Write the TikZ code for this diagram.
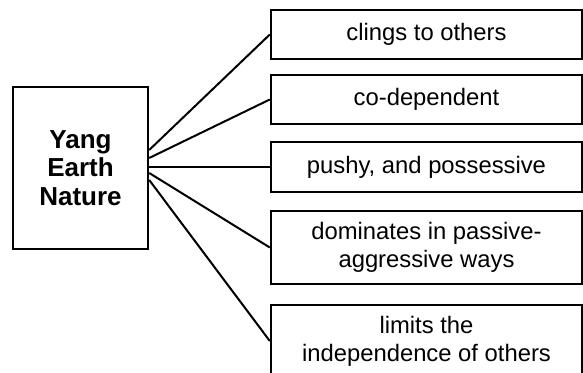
\documentclass[tikz,border=0pt]{standalone}
\usepackage{fontspec}
\setmainfont{Liberation Sans}
\usetikzlibrary{positioning}

\begin{document}
\begin{tikzpicture}[x=0.5pt, y=-0.5pt,
    trait/.style={draw, line width=1.2pt, minimum width=155.5pt, inner sep=0pt,
      align=center, font=\fontsize{11.9}{14}\selectfont},
    link/.style={line width=1pt}]
    \useasboundingbox (0,0) rectangle (583,373);

    % Nature box on the left
    \node[draw, line width=1.2pt, minimum width=67.5pt, minimum height=81pt,
      align=center, font=\fontsize{13}{14.3}\selectfont\bfseries] (yang) at (80.5,168) {Yang\\Earth\\Nature};

    % Traits
    \node[trait, minimum height=24.5pt] (cling) at (426.5,34.5) {clings to others};
    \node[trait, minimum height=24.5pt] (codep) at (426.5,99.5) {co-dependent};
    \node[trait, minimum height=25pt] (pushy) at (426.5,167) {pushy, and possessive};
    \node[trait, minimum height=36.5pt] (passive) at (426.5,247.5) {dominates in passive-\\aggressive ways};
    \node[trait, minimum height=36pt] (limits) at (426.5,341) {limits the\\independence of others};

    % Links from the nature box
    \foreach \t/\s in {cling/9pt, codep/5pt, pushy/0.5pt, passive/-2.5pt, limits/-6pt} {
      \draw[link] ([yshift=\s]yang.east) -- (\t.west);
    }
\end{tikzpicture}
\end{document}
